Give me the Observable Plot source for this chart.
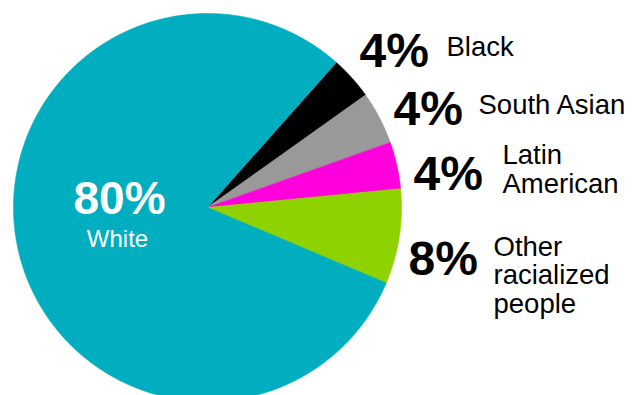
<!DOCTYPE html>
<html>
<head>
<meta charset="utf-8">
<script src="https://cdn.jsdelivr.net/npm/d3@7"></script>
<script src="https://cdn.jsdelivr.net/npm/@observablehq/plot@0.6"></script>
<style>
  html, body { margin: 0; padding: 0; background: #fff; }
  svg { display: block; }
</style>
</head>
<body>
<div id="chart"></div>
<script>
// Data (clockwise order, starting at the top-right)
const categories = ["Black", "South Asian", "Latin American", "Other racialized people", "White"];
const values = [3.6, 4.4, 3.9, 7.9, 80.2];
const pctLabels = ["4%", "4%", "4%", "8%", "80%"];
const nameLabels = ["Black", "South Asian", "Latin\nAmerican", "Other\nracialized\npeople", "White"];
const colors = ["#000000", "#999999", "#ff00dd", "#8ed300", "#00aec0"];

// Layout
const W = 642, H = 395;
const cx = 207, cy = 207, R = 194;
const startAngle = 41.6 * Math.PI / 180;
const pctPos = [[359, 66], [393, 124], [413, 189], [408, 274], [119, 213]];
const namePos = [[446, 55], [478, 113], [502, 192], [493, 312], [117, 246]];

const pie = d3.pie().sort(null).value(d => d.value)
  .startAngle(startAngle).endAngle(startAngle + 2 * Math.PI);
const rows = categories.map((c, i) => ({category: c, value: values[i]}));
const arcs = pie(rows);

const slicePts = [];
for (const a of arcs) {
  const n = Math.max(2, Math.ceil((a.endAngle - a.startAngle) / (Math.PI / 360)));
  slicePts.push({category: a.data.category, x: cx, y: cy});
  for (let k = 0; k <= n; k++) {
    const t = a.startAngle + (a.endAngle - a.startAngle) * k / n;
    slicePts.push({category: a.data.category, x: cx + R * Math.sin(t), y: cy - R * Math.cos(t)});
  }
  slicePts.push({category: a.data.category, x: cx, y: cy});
}

const pctRows = categories.map((c, i) => ({
  text: pctLabels[i], x: pctPos[i][0], y: pctPos[i][1], white: c === "White"
}));
const nameRows = categories.map((c, i) => ({
  text: nameLabels[i], x: namePos[i][0], y: namePos[i][1], white: c === "White"
}));

const font = "Helvetica, Arial, 'Liberation Sans', sans-serif";

const chart = Plot.plot({
  width: W, height: H,
  margin: 0,
  x: {domain: [0, W], range: [0, W], axis: null},
  y: {domain: [0, H], range: [0, H], axis: null},
  color: {domain: categories, range: colors},
  style: {fontFamily: font, background: "#fff"},
  marks: [
    Plot.line(slicePts, {x: "x", y: "y", z: "category", fill: "category", stroke: "category", strokeWidth: 0.6, curve: "linear"}),
    Plot.text(pctRows.filter(d => !d.white), {
      x: "x", y: "y", text: "text", textAnchor: "start", lineAnchor: "bottom",
      fontSize: 48, fontWeight: "bold", fill: "#000"
    }),
    Plot.text(nameRows.filter(d => !d.white), {
      x: "x", y: "y", text: "text", textAnchor: "start", lineAnchor: "bottom",
      fontSize: 27.5, lineHeight: 1.03, fill: "#000"
    }),
    Plot.text(pctRows.filter(d => d.white), {
      x: "x", y: "y", text: "text", textAnchor: "middle", lineAnchor: "bottom",
      fontSize: 46, fontWeight: "bold", fill: "#fff", letterSpacing: 5
    }),
    Plot.text(nameRows.filter(d => d.white), {
      x: "x", y: "y", text: "text", textAnchor: "middle", lineAnchor: "bottom",
      fontSize: 24, fill: "#fff", letterSpacing: 0.8
    })
  ]
});
document.getElementById("chart").appendChild(chart);
</script>
</body>
</html>
